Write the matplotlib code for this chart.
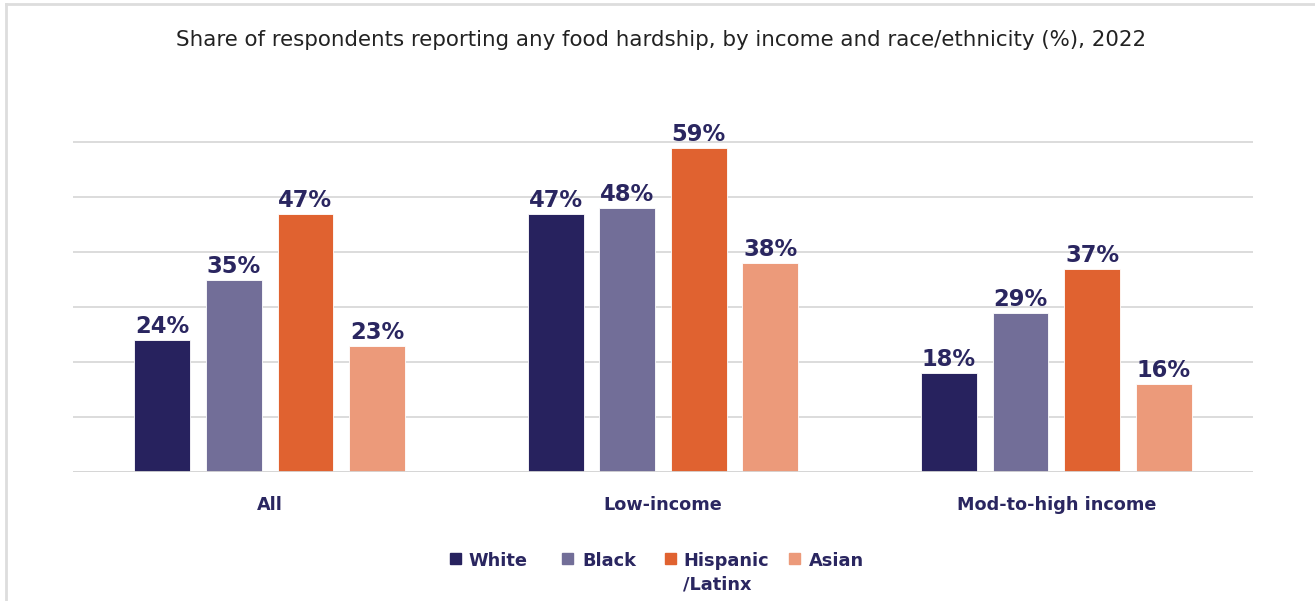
import numpy as np
import matplotlib
matplotlib.use("Agg")
import matplotlib.pyplot as plt
from matplotlib.patches import Rectangle
from matplotlib.lines import Line2D

# Food hardship shares (%), 2022
groups = ["All", "Low-income", "Mod-to-high income"]
series = ["White", "Black", "Hispanic\n/Latinx", "Asian"]
white = [24, 47, 18]
black = [35, 48, 29]
hispanic = [47, 59, 37]
asian = [23, 38, 16]
values = [white, black, hispanic, asian]

colors = ["#27225e", "#726e98", "#e06230", "#ec9a7a"]
navy = "#2a2660"

plt.rcParams["font.family"] = ["DejaVu Sans"]

W, H = 1315, 601
fig = plt.figure(figsize=(W / 100, H / 100), dpi=100)
# 5.5 px per percentage point; one extra point of headroom above 60
ax = fig.add_axes([73 / W, 1 - 472 / H, (1253 - 73) / W, (472 - 136.5) / H])

x = np.arange(len(groups))
step = 0.182
width = 0.142
offsets = (np.arange(len(series)) - (len(series) - 1) / 2) * step

for i, (vals, col) in enumerate(zip(values, colors)):
    bars = ax.bar(x + offsets[i], vals, width=width, color=col,
                  edgecolor="white", linewidth=0.6, zorder=3)
    for b, v in zip(bars, vals):
        ax.annotate(f"{v}%", (b.get_x() + b.get_width() / 2, v),
                    xytext=(0, 5), textcoords="offset points",
                    ha="center", va="baseline", fontsize=16.3,
                    fontweight="bold", color=navy, clip_on=False)

ax.set_xlim(-0.5, 2.5)
ax.set_ylim(0, 61)
ax.set_yticks(np.arange(0, 61, 10))
ax.yaxis.grid(True, color="#dcdcdc", linewidth=1.4, zorder=0)
ax.set_axisbelow(True)
ax.tick_params(left=False, labelleft=False, bottom=False)
for s in ax.spines.values():
    s.set_visible(False)
ax.axhline(0, color="#d6d6d6", linewidth=2, zorder=4)

ax.set_xticks(x)
ax.set_xticklabels(groups, fontsize=12.7, fontweight="bold", color=navy)
ax.tick_params(axis="x", pad=14)

fig.text(0.503, 1 - 40 / H, "Share of respondents reporting any food hardship, by income and race/ethnicity (%), 2022",
         ha="center", va="center", fontsize=15.4, color="#222222")

# legend drawn by hand so the swatch lines up with the first text line
swatch_x = [450, 562, 665, 789]
text_x = [468, 582, 683, 809]
for sx, tx, lab, col in zip(swatch_x, text_x, series, colors):
    fig.patches.append(Rectangle((sx / W, 1 - 564 / H), 11 / W, 11 / H,
                                 transform=fig.transFigure, color=col))
    fig.text(tx / W, 1 - 551.5 / H, lab, ha="left", va="top",
             fontsize=12.8, fontweight="bold", color=navy, linespacing=1.4)

# panel frame
fig.add_artist(Line2D([6 / W, 6 / W], [0, 1 - 4 / H], transform=fig.transFigure,
                      color="#dddddd", linewidth=2))
fig.add_artist(Line2D([6 / W, 1], [1 - 4 / H, 1 - 4 / H], transform=fig.transFigure,
                      color="#dddddd", linewidth=2))

fig.savefig("out.png", dpi=100)
